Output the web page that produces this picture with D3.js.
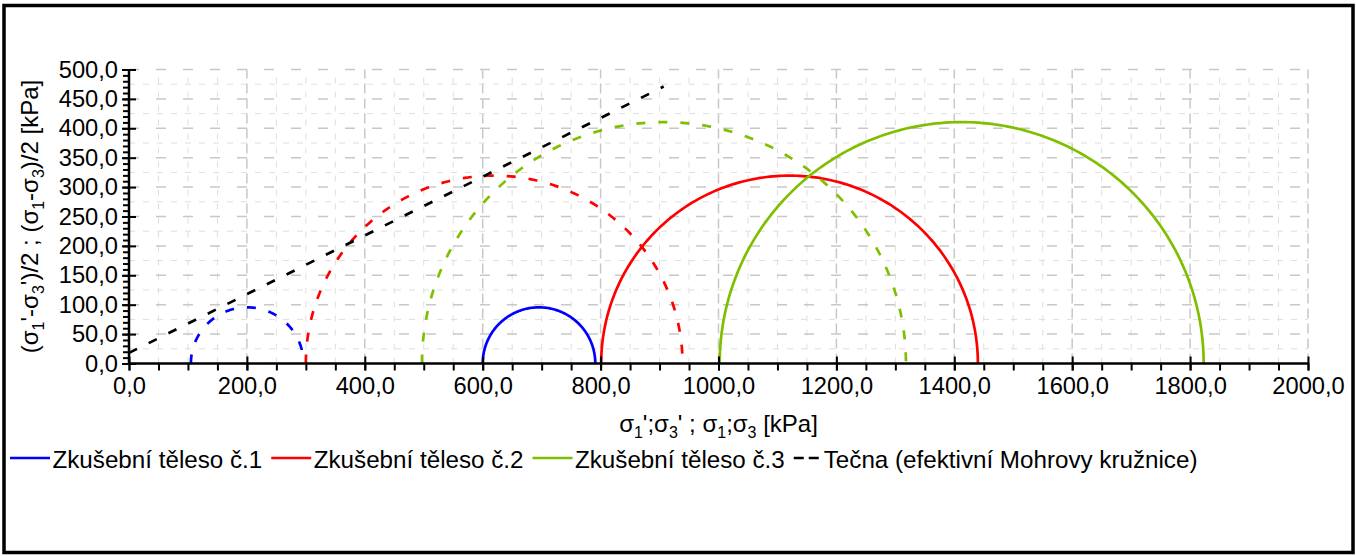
<!DOCTYPE html>
<html>
<head>
<meta charset="utf-8">
<script src="https://cdn.jsdelivr.net/npm/d3@7/dist/d3.min.js"></script>
<style>
  html, body { margin: 0; padding: 0; background: #fff; }
  svg { display: block; font-family: "Liberation Sans", Arial, sans-serif; }
</style>
</head>
<body>
<svg id="chart" width="1356" height="556"></svg>
<script>
// ---------- data ----------
const specimenNames = ["Zkušební těleso č.1", "Zkušební těleso č.2", "Zkušební těleso č.3"];
const sigma3Eff = [105, 300, 497];     // σ3' [kPa]
const sigma1Eff = [296, 939, 1318];    // σ1' [kPa]
const sigma3Tot = [600, 801, 1002];    // σ3 [kPa]
const sigma1Tot = [791, 1440, 1823];   // σ1 [kPa]
const tangentX = [0, 907];             // σ' [kPa]
const tangentY = [18, 471];            // τ [kPa]
const tangentName = "Tečna (efektivní Mohrovy kružnice)";
const xTickValues = [0, 200, 400, 600, 800, 1000, 1200, 1400, 1600, 1800, 2000];
const yTickValues = [0, 50, 100, 150, 200, 250, 300, 350, 400, 450, 500];

// ---------- styles ----------
const seriesColors = ["#0000ff", "#ff0000", "#7fbf00"];
const FONT = 23.7;

const svg = d3.select("#chart");
const x = d3.scaleLinear().domain([0, 2000]).range([129, 1308]);
const y = d3.scaleLinear().domain([0, 500]).range([363.5, 69.5]);
const fmt = v => d3.format(".1f")(v).replace(".", ",");

// frame
svg.append("rect").attr("x", 4).attr("y", 5.5).attr("width", 1349).attr("height", 547)
  .attr("fill", "none").attr("stroke", "#000").attr("stroke-width", 3.5);

// ---------- grid ----------
const grid = svg.append("g");
const xMinor = d3.range(0, 2001, 50);
const yMinor = d3.range(0, 501, 25);
grid.selectAll(".vg").data(xMinor).join("line")
  .attr("x1", d => x(d)).attr("x2", d => x(d)).attr("y1", y(0)).attr("y2", y(500))
  .attr("stroke", d => d % 200 === 0 ? "#c8c8c8" : "#dedede")
  .attr("stroke-width", d => d % 200 === 0 ? 1.5 : 1)
  .attr("stroke-dasharray", d => d % 200 === 0 ? "10,5" : "6,8");
grid.selectAll(".hg").data(yMinor).join("line")
  .attr("x1", x(0)).attr("x2", x(2000)).attr("y1", d => y(d)).attr("y2", d => y(d))
  .attr("stroke", d => d % 50 === 0 ? "#c8c8c8" : "#dedede")
  .attr("stroke-width", d => d % 50 === 0 ? 1.5 : 1)
  .attr("stroke-dasharray", d => d % 50 === 0 ? "10,17" : "6,8");

// ---------- circles ----------
function semicircle(s3, s1) {
  const c = (s1 + s3) / 2, r = (s1 - s3) / 2;
  const pts = d3.range(0, 181, 1).map(a => {
    const t = Math.PI - a * Math.PI / 180;
    return [c + r * Math.cos(t), r * Math.sin(t)];
  });
  return d3.line().x(d => x(d[0])).y(d => y(d[1]))(pts);
}
const curves = svg.append("g").attr("fill", "none");
specimenNames.forEach((n, i) => {
  curves.append("path").attr("d", semicircle(sigma3Eff[i], sigma1Eff[i]))
    .attr("stroke", seriesColors[i]).attr("stroke-width", 2.7)
    .attr("stroke-dasharray", "9,13");
  curves.append("path").attr("d", semicircle(sigma3Tot[i], sigma1Tot[i]))
    .attr("stroke", seriesColors[i]).attr("stroke-width", 2.7);
});
curves.append("path")
  .attr("d", d3.line().x(d => x(d[0])).y(d => y(d[1]))(tangentX.map((v, i) => [v, tangentY[i]])))
  .attr("stroke", "#000").attr("stroke-width", 2.7).attr("stroke-dasharray", "9,13");

// ---------- axes ----------
const xAxisG = svg.append("g").attr("transform", `translate(0,${y(0)})`);
xAxisG.append("g").call(d3.axisBottom(x).tickValues(d3.range(0, 2001, 50)).tickSize(7).tickFormat(""))
  .call(g => g.select(".domain").remove());
xAxisG.append("g").call(d3.axisBottom(x).tickValues(xTickValues).tickSizeInner(7).tickSizeOuter(0)
    .tickPadding(6.5).tickFormat(fmt))
  .call(g => g.select(".domain").remove())
  .call(g => g.selectAll(".tick line").attr("y1", -7))
  .call(g => g.selectAll("text").attr("font-size", FONT).attr("font-family", "Liberation Sans, Arial").attr("fill", "#000"));
xAxisG.selectAll("line").attr("stroke", "#000").attr("stroke-width", 2);
xAxisG.append("line").attr("x1", x(0)).attr("x2", x(2000)).attr("stroke", "#000").attr("stroke-width", 2.5);

const yAxisG = svg.append("g").attr("transform", `translate(${x(0)},0)`);
yAxisG.append("g").call(d3.axisLeft(y).tickValues(d3.range(0, 501, 10)).tickSize(6).tickFormat(""))
  .call(g => g.select(".domain").remove());
yAxisG.append("g").call(d3.axisLeft(y).tickValues(yTickValues).tickSizeInner(7).tickSizeOuter(0)
    .tickPadding(4).tickFormat(fmt))
  .call(g => g.select(".domain").remove())
  .call(g => g.selectAll(".tick line").attr("x1", 7))
  .call(g => g.selectAll("text").attr("font-size", FONT).attr("font-family", "Liberation Sans, Arial").attr("fill", "#000"));
yAxisG.selectAll("line").attr("stroke", "#000").attr("stroke-width", 2);
yAxisG.append("line").attr("y1", y(0)).attr("y2", y(500)).attr("stroke", "#000").attr("stroke-width", 2.5);

// ---------- axis titles ----------
function richText(el, parts) {
  let shifted = false;
  parts.forEach(([t, sub]) => {
    const ts = el.append("tspan").text(t);
    if (sub && !shifted) { ts.attr("font-size", 16).attr("dy", 6); shifted = true; }
    else if (!sub && shifted) { ts.attr("dy", -6); shifted = false; }
  });
}
const xTitle = svg.append("text").attr("x", (x(0) + x(2000)) / 2).attr("y", 432)
  .attr("text-anchor", "middle").attr("font-size", 24).attr("fill", "#000");
richText(xTitle, [["σ"], ["1", 1], ["';σ"], ["3", 1], ["' ; σ"], ["1", 1], [";σ"], ["3", 1], [" [kPa]"]]);

const yTitle = svg.append("text")
  .attr("transform", `translate(38,${(y(0) + y(500)) / 2}) rotate(-90)`)
  .attr("text-anchor", "middle").attr("font-size", 24).attr("fill", "#000");
richText(yTitle, [["(σ"], ["1", 1], ["'-σ"], ["3", 1], ["')/2 ; (σ"], ["1", 1], ["-σ"], ["3", 1], [")/2 [kPa]"]]);

// ---------- legend ----------
const legend = svg.append("g").attr("font-size", 24.2).attr("fill", "#000");
let lx = 10;
const ly = 458;
const items = specimenNames.map((n, i) => ({ name: n, color: seriesColors[i], dash: null }))
  .concat([{ name: tangentName, color: "#000", dash: "10,5" }]);
items.forEach(it => {
  const len = it.dash ? 25 : 40;
  legend.append("line").attr("x1", lx).attr("x2", lx + len).attr("y1", ly).attr("y2", ly)
    .attr("stroke", it.color).attr("stroke-width", 2.7)
    .attr("stroke-dasharray", it.dash);
  lx += len + (it.dash ? 5 : 2.5);
  const t = legend.append("text").attr("x", lx).attr("y", 468).text(it.name);
  lx += t.node().getComputedTextLength() + 9;
});
</script>
</body>
</html>
